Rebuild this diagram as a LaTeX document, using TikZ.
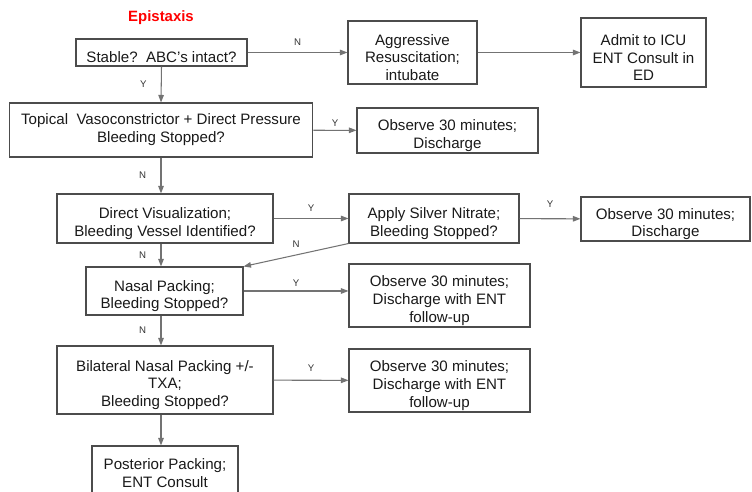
\documentclass[tikz,border=0pt]{standalone}
\usepackage{fontspec}
\setmainfont{Liberation Sans}
\usetikzlibrary{positioning,arrows.meta}

\begin{document}
\begin{tikzpicture}[x=0.02cm, y=-0.02cm,
    box/.style={draw=black!70, line width=0.6pt, inner sep=0pt, align=center,
      font=\fontsize{8.6}{10.2}\selectfont, text=black!90},
    arr/.style={draw=black!55, line width=0.6pt, -{Triangle[length=1.5mm, width=1.1mm]}},
    yn/.style={font=\fontsize{5.5}{6}\selectfont, text=black!80, inner sep=1pt}]
  \useasboundingbox (0,0) rectangle (752,492);
  \clip (0,0) rectangle (752,492);

  % Nodes
  \node[font=\fontsize{8.5}{10}\selectfont\bfseries, text=red] (title) at (161,18) {Epistaxis};
  \node[box, minimum width=3.42cm, minimum height=0.54cm] (stable) at (161.5,52.5) {\rule{0pt}{12pt}Stable?\ \ ABC's intact?};
  \node[box, minimum width=2.58cm, minimum height=1.26cm] (resus) at (412.5,52.5) {\rule{0pt}{12pt}Aggressive\\Resuscitation;\\intubate};
  \node[box, minimum width=2.5cm, minimum height=1.38cm] (icu) at (643.5,52.5) {\rule{0pt}{12pt}Admit to ICU\\ENT Consult in\\ED};
  \node[box, minimum width=6.08cm, minimum height=1.08cm] (topical) at (161,130) {Topical\ \ Vasoconstrictor + Direct Pressure\\Bleeding Stopped?};
  \node[box, minimum width=3.62cm, minimum height=0.9cm] (obs1) at (447.5,130.5) {\rule{0pt}{12pt}Observe 30 minutes;\\Discharge};
  \node[box, minimum width=4.32cm, minimum height=0.98cm] (visual) at (165,218.5) {\rule{0pt}{12pt}Direct Visualization;\\Bleeding Vessel\ Identified?};
  \node[box, minimum width=3.4cm, minimum height=0.98cm] (silver) at (434,218.5) {\rule{0pt}{12pt}Apply Silver Nitrate;\\Bleeding Stopped?};
  \node[box, minimum width=3.38cm, minimum height=0.88cm] (obs2) at (665.5,219) {\rule{0pt}{12pt}Observe 30 minutes;\\Discharge};
  \node[box, minimum width=3.14cm, minimum height=0.96cm] (nasal) at (164.5,291) {\rule{0pt}{12pt}Nasal Packing;\\Bleeding Stopped?};
  \node[box, minimum width=3.62cm, minimum height=1.26cm] (obs3) at (439.5,295.5) {\rule{0pt}{12pt}Observe 30 minutes;\\Discharge with ENT\\follow-up};
  \node[box, minimum width=4.32cm, minimum height=1.36cm] (bilat) at (165,380) {\rule{0pt}{12pt}Bilateral Nasal Packing +/-\\TXA;\\Bleeding Stopped?};
  \node[box, minimum width=3.62cm, minimum height=1.26cm] (obs4) at (439.5,380.5) {\rule{0pt}{12pt}Observe 30 minutes;\\Discharge with ENT\\follow-up};
  \node[box, minimum width=2.92cm, minimum height=1.08cm] (post) at (165,473) {Posterior Packing;\\ENT Consult};

  % Edges
  \draw[arr] (stable) -- node[yn, above=1mm] {N} (resus);
  \draw[arr] (resus) -- (icu);
  \draw[arr] (stable.south) -- node[yn, left=2.5mm] {Y} (topical.north);
  \draw[arr] (topical) -- node[yn, above=0.4mm] {Y} (obs1);
  \draw[arr] (topical.south) -- node[yn, left=2.5mm] {N} (topical.south |- visual.north);
  \draw[arr] (visual) -- node[yn, above=1mm] {Y} (silver);
  \draw[arr] (silver) -- node[yn, above=1.8mm] {Y} (obs2);
  \draw[arr] (silver.south west) -- node[yn, above=1mm] {N} (nasal.north east);
  \draw[arr] (topical.south |- visual.south) -- node[yn, left=2.5mm] {N} (topical.south |- nasal.north);
  \draw[arr] (nasal.east) -- node[yn, above=0.4mm] {Y} (nasal.east -| obs3.west);
  \draw[arr] (topical.south |- nasal.south) -- node[yn, left=2.5mm] {N} (topical.south |- bilat.north);
  \draw[arr] (bilat) -- node[yn, above=1.2mm] {Y} (obs4);
  \draw[arr] (topical.south |- bilat.south) -- (topical.south |- post.north);
\end{tikzpicture}
\end{document}
